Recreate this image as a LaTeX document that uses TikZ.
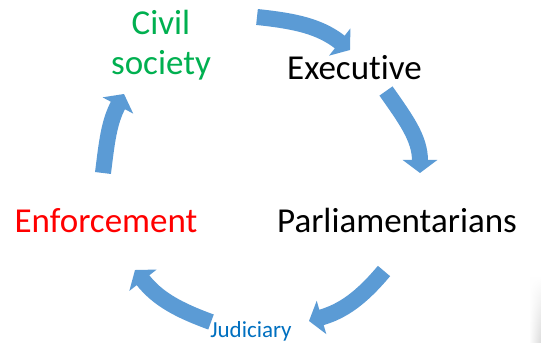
\documentclass[tikz,border=0pt]{standalone}
\usepackage{fontspec}
\setmainfont{Carlito}[Ligatures=NoCommon]
\usetikzlibrary{arrows.meta,fadings}
\definecolor{arrowblue}{HTML}{5B9BD5}
\definecolor{civgreen}{HTML}{00B050}
\definecolor{judblue}{HTML}{0070C0}
\definecolor{enfred}{HTML}{FF0000}
\begin{document}
\begin{tikzpicture}[x=1pt,y=1pt,
  cyc/.style={draw=arrowblue, line width=16pt, -{Triangle[width=34pt,length=13pt]}},
  lbl/.style={anchor=base, inner sep=0pt, font=\fontsize{35}{42}\selectfont},
  small/.style={anchor=base, inner sep=0pt, font=\fontsize{23}{28}\selectfont}]
\useasboundingbox (0,0) rectangle (541,343);
\fill[white] (0,0) rectangle (541,343);
\shade[left color=white, right color=black!14, path fading=north] (529,0) rectangle (541,66);
% labels
\node[lbl, text=civgreen] (civil) at (161,308) {Civil};
\node[lbl, text=civgreen] (society) at (161,268) {society};
\node[lbl] (exec) at (354.5,263) {Executive};
\node[lbl] (parl) at (397,110) {Parliamentarians};
\node[lbl, text=enfred] (enf) at (106,110) {Enforcement};
\node[small, text=judblue] (jud) at (251,6) {Judiciary};
% arrow ends
\coordinate (a1s) at (257,326);
\coordinate (a1e) at (350,293);
\coordinate (a2s) at (386,252);
\coordinate (a2e) at (420,170);
\coordinate (a3s) at (384,72);
\coordinate (a3e) at (309,22);
\coordinate (a4s) at (211,21);
\coordinate (a4e) at (135,73);
\coordinate (a5s) at (103,170);
\coordinate (a5e) at (124,249);
% arrows
\draw[cyc] (a1s) to[out=-6, in=142] (a1e);
\draw[cyc] (a2s) to[out=-55, in=90] (a2e);
\draw[cyc] (a3s) to[out=-130, in=16] (a3e);
\draw[cyc] (a4s) to[out=160, in=-52] (a4e);
\draw[cyc] (a5s) to[out=83, in=-118] (a5e);
\end{tikzpicture}
\end{document}
